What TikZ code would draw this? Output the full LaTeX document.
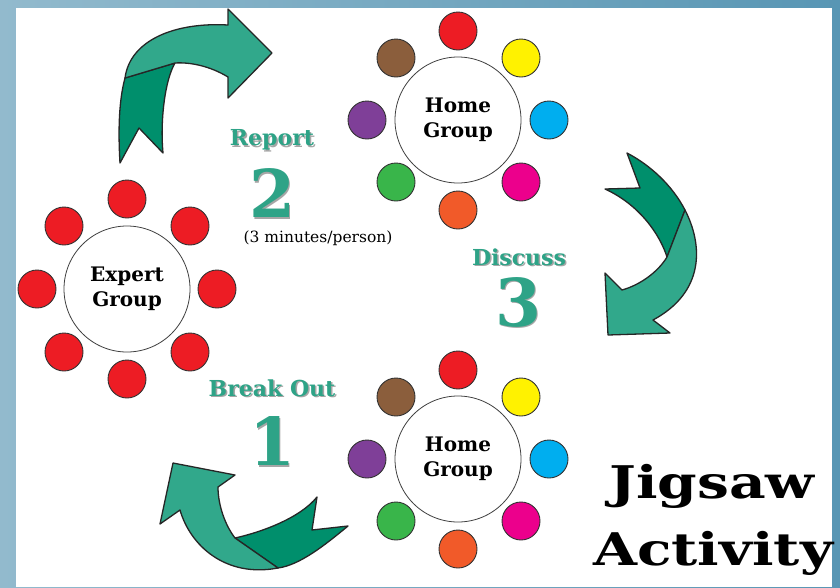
\documentclass[tikz,border=0pt]{standalone}
\usepackage{fontspec}
\setmainfont{DejaVu Serif}
\usepackage{tikz}
\usetikzlibrary{positioning}

\definecolor{bgleft}{RGB}{146,186,205}
\definecolor{bgright}{RGB}{88,150,180}
\definecolor{tealtext}{RGB}{46,163,135}
\definecolor{teallight}{RGB}{49,168,139}
\definecolor{tealdark}{RGB}{0,143,108}
\definecolor{seatred}{RGB}{237,28,36}
\definecolor{seatyellow}{RGB}{255,242,0}
\definecolor{seatblue}{RGB}{0,174,239}
\definecolor{seatpink}{RGB}{236,0,140}
\definecolor{seatorange}{RGB}{241,90,41}
\definecolor{seatgreen}{RGB}{57,181,74}
\definecolor{seatpurple}{RGB}{127,63,152}
\definecolor{seatbrown}{RGB}{139,94,60}

\newcommand{\shadowed}[1]{\makebox[0pt][l]{\hspace{1.5pt}\raisebox{-1.5pt}{\textcolor{black!35}{#1}}}\textcolor{tealtext}{#1}}
\newcommand{\widetitle}[1]{\scalebox{1.26}[1]{#1}}

\tikzstyle{group} = [circle, draw=black!75, line width=0.8pt, fill=white, minimum size=126pt, inner sep=0pt, align=center, font=\bfseries\fontsize{20}{25}\selectfont]
\tikzstyle{seat} = [circle, draw=black!80, line width=0.9pt, minimum size=38pt, inner sep=0pt]
\tikzstyle{phase} = [font=\bfseries\fontsize{22}{22}\selectfont]
\tikzstyle{phasenum} = [font=\bfseries\fontsize{66}{66}\selectfont]
\tikzstyle{note} = [font=\fontsize{15.5}{15.5}\selectfont]
\tikzstyle{title} = [anchor=base, font=\bfseries\fontsize{45}{45}\selectfont]
\tikzstyle{ribbonlight} = [fill=teallight, draw=black!85, line width=1.3pt, line join=round]
\tikzstyle{ribbondark} = [fill=tealdark, draw=black!85, line width=1.3pt, line join=round]

\begin{document}
\begin{tikzpicture}[x=1pt, y=-1pt, on grid]

\fill[left color=bgleft, right color=bgright] (0,0) rectangle (840,587);
\fill[white] (16,8) rectangle (832,587);

% expert group
\node (expert) [group] at (127,289) {Expert\\Group};
\node (ex1) [seat, fill=seatred, above=90pt of expert] {};
\node (ex2) [seat, fill=seatred, above right=63pt and 63pt of expert] {};
\node (ex3) [seat, fill=seatred, right=90pt of expert] {};
\node (ex4) [seat, fill=seatred, below right=63pt and 63pt of expert] {};
\node (ex5) [seat, fill=seatred, below=90pt of expert] {};
\node (ex6) [seat, fill=seatred, below left=63pt and 63pt of expert] {};
\node (ex7) [seat, fill=seatred, left=90pt of expert] {};
\node (ex8) [seat, fill=seatred, above left=63pt and 63pt of expert] {};

% home group (top)
\node (hometop) [group] at (458,120) {Home\\Group};
\node (ht1) [seat, fill=seatred, above=89pt of hometop] {};
\node (ht2) [seat, fill=seatyellow, above right=62pt and 63pt of hometop] {};
\node (ht3) [seat, fill=seatblue, right=91pt of hometop] {};
\node (ht4) [seat, fill=seatpink, below right=62pt and 63pt of hometop] {};
\node (ht5) [seat, fill=seatorange, below=90pt of hometop] {};
\node (ht6) [seat, fill=seatgreen, below left=62pt and 62pt of hometop] {};
\node (ht7) [seat, fill=seatpurple, left=91pt of hometop] {};
\node (ht8) [seat, fill=seatbrown, above left=62pt and 62pt of hometop] {};

% home group (bottom)
\node (homebot) [group] at (458,459) {Home\\Group};
\node (hb1) [seat, fill=seatred, above=89pt of homebot] {};
\node (hb2) [seat, fill=seatyellow, above right=62pt and 63pt of homebot] {};
\node (hb3) [seat, fill=seatblue, right=91pt of homebot] {};
\node (hb4) [seat, fill=seatpink, below right=62pt and 63pt of homebot] {};
\node (hb5) [seat, fill=seatorange, below=90pt of homebot] {};
\node (hb6) [seat, fill=seatgreen, below left=62pt and 62pt of homebot] {};
\node (hb7) [seat, fill=seatpurple, left=91pt of homebot] {};
\node (hb8) [seat, fill=seatbrown, above left=62pt and 62pt of homebot] {};

% ribbon arrows
\draw[ribbondark] (125,78) -- (175,63) .. controls (165,80) and (160,120) .. (163,153) -- (139,128) -- (120,163) .. controls (118,130) and (119,100) .. (125,78) -- cycle;
\draw[ribbonlight] (125,78) .. controls (130,40) and (175,22) .. (228,25) -- (228,9) -- (272,53) -- (228,98) -- (228,77) .. controls (210,66) and (190,62) .. (175,63) -- cycle;

\draw[ribbondark] (627,153) .. controls (650,165) and (672,185) .. (685,210) -- (667,257) .. controls (660,235) and (640,205) .. (605,189) -- (640,188) -- cycle;
\draw[ribbonlight] (685,210) .. controls (703,245) and (705,292) .. (653,320) -- (670,333) -- (608,335) -- (605,273) -- (622,290) .. controls (640,285) and (658,272) .. (667,257) -- cycle;

\draw[ribbondark] (235,538) .. controls (262,532) and (300,518) .. (317,497) -- (312,530) -- (348,526) .. controls (325,545) and (300,565) .. (278,568) -- cycle;
\draw[ribbonlight] (180,510) .. controls (190,545) and (225,578) .. (278,568) -- (235,538) .. controls (225,525) and (218,505) .. (218,487) -- (235,475) -- (173,463) -- (160,524) -- cycle;

% phase labels
\node (report) [phase] at (272,141) {\shadowed{Report}};
\node (two) [phasenum] at (272,194) {\shadowed{2}};
\node (minutes) [note] at (318,238) {(3 minutes/person)};
\node (discuss) [phase] at (519,258) {\shadowed{Discuss}};
\node (three) [phasenum] at (518,303) {\shadowed{3}};
\node (breakout) [phase] at (272,389) {\shadowed{Break Out}};
\node (one) [phasenum] at (272,442) {\shadowed{1}};

\node (jigsaw) [title] at (712,498) {\widetitle{Jigsaw}};
\node (activity) [title] at (713,565) {\widetitle{Activity}};

\end{tikzpicture}
\end{document}
